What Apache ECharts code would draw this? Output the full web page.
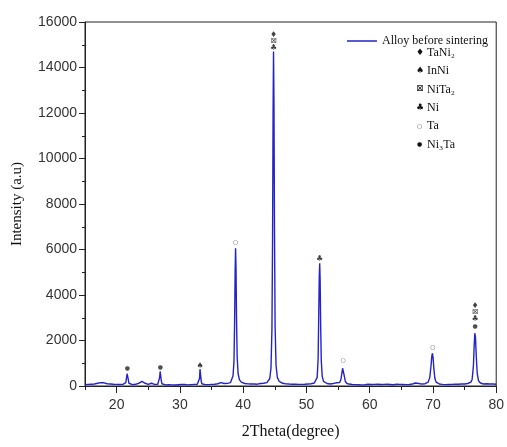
<!DOCTYPE html>
<html>
<head>
<meta charset="utf-8">
<script src="https://cdn.jsdelivr.net/npm/echarts@6/dist/echarts.min.js"></script>
<style>
  html, body { margin: 0; padding: 0; background: #fff; }
  #chart { width: 507px; height: 447px; }
</style>
</head>
<body>
<div id="chart"></div>
<script>
const seriesName = 'Alloy before sintering';
const twoTheta = [
  15.0,15.25,15.5,15.75,16.0,16.25,16.5,16.75,17.0,17.25,17.5,17.75,18.0,18.25,18.5,18.75,19.0,19.25,19.5,19.75,
  20.0,20.25,20.5,20.75,21.0,21.25,21.45,21.55,21.65,21.75,21.85,21.95,22.15,22.5,22.75,23.0,23.25,23.5,23.75,24.0,
  24.25,24.5,24.75,25.0,25.25,25.5,25.75,26.0,26.25,26.5,26.7,26.8,26.88,26.95,27.05,27.15,27.4,27.75,28.0,28.25,
  28.5,28.75,29.0,29.25,29.5,29.75,30.0,30.25,30.5,30.75,31.0,31.25,31.5,31.75,32.0,32.25,32.5,32.75,33.0,33.1,
  33.18,33.25,33.35,33.45,33.7,34.0,34.25,34.5,34.75,35.0,35.25,35.5,35.75,36.0,36.25,36.5,36.75,37.0,37.25,37.5,
  37.75,38.0,38.2,38.4,38.55,38.65,38.73,38.8,38.87,38.95,39.05,39.2,39.4,39.7,40.0,40.25,40.5,40.75,41.0,41.25,
  41.5,41.75,42.0,42.25,42.5,42.75,43.0,43.25,43.5,43.75,44.0,44.2,44.4,44.55,44.65,44.73,44.8,44.87,44.95,45.05,
  45.2,45.4,45.7,46.0,46.25,46.5,46.75,47.0,47.25,47.5,47.75,48.0,48.25,48.5,48.75,49.0,49.25,49.5,49.75,50.0,
  50.25,50.5,50.75,51.0,51.25,51.5,51.7,51.85,51.95,52.03,52.1,52.17,52.25,52.35,52.5,52.7,53.0,53.25,53.5,53.75,
  54.0,54.25,54.5,54.7,55.0,55.25,55.45,55.6,55.72,55.8,55.9,56.0,56.15,56.4,56.75,57.0,57.25,57.5,57.75,58.0,
  58.25,58.5,58.75,59.0,59.25,59.5,59.75,60.0,60.25,60.5,60.75,61.0,61.25,61.5,61.75,62.0,62.25,62.5,62.75,63.0,
  63.25,63.5,63.75,64.0,64.25,64.5,64.75,65.0,65.25,65.5,65.75,66.0,66.25,66.5,66.75,67.0,67.25,67.5,67.75,68.0,
  68.25,68.5,68.75,69.0,69.25,69.5,69.7,69.82,69.92,70.02,70.15,70.3,70.5,70.8,71.0,71.25,71.5,71.75,72.0,72.25,
  72.5,72.75,73.0,73.25,73.5,73.75,74.0,74.25,74.5,74.75,75.0,75.25,75.5,75.75,76.0,76.2,76.4,76.52,76.62,76.72,
  76.85,77.0,77.2,77.5,77.75,78.0,78.25,78.5,78.75,79.0,79.25,79.5,79.75,80.0
];
const intensity = [
  60,85,70,95,80,100,90,110,120,140,150,135,140,110,100,85,90,70,75,60,
  70,55,65,50,70,80,150,320,540,520,280,120,70,60,80,75,95,120,160,200,
  180,120,90,70,90,120,80,70,60,75,120,380,640,560,260,100,60,50,65,55,
  70,50,60,45,70,55,50,65,55,70,60,50,75,60,55,70,60,75,100,330,
  740,660,260,100,70,60,75,60,80,70,85,75,90,100,120,150,120,110,100,115,
  130,150,220,450,1100,2800,5000,6050,5200,3000,1300,550,280,170,140,110,120,95,100,85,
  100,90,95,80,100,110,105,120,130,150,190,320,800,2500,6500,12000,14700,12500,7000,2600,
  900,380,200,150,120,110,95,100,85,95,80,90,75,85,70,80,70,85,75,80,
  90,85,100,110,130,180,380,1200,3200,4800,5400,4600,2700,1100,420,200,140,110,100,90,
  100,110,170,140,110,150,280,560,780,830,700,420,200,110,85,75,65,80,60,70,
  55,65,50,70,55,60,75,55,65,50,70,60,75,55,65,50,70,60,75,85,
  65,70,55,65,80,60,70,55,65,75,60,70,65,80,90,95,130,150,110,90,
  85,95,100,120,170,380,900,1300,1440,1250,750,340,170,110,90,80,70,75,60,70,
  65,55,70,60,75,65,80,70,85,95,90,100,110,130,170,300,900,1800,2320,2150,
  1300,550,230,130,100,90,85,100,80,90,75,85,70,80
];
// Phase markers placed above peaks: 2θ, intensity, glyph
const markX = [21.7, 26.9, 33.2, 38.8, 44.8, 44.8, 44.8, 52.1, 55.8, 70.0, 76.65, 76.65, 76.65, 76.65];
const markY = [790, 830, 880, 6330, 15430, 15170, 14880, 5580, 1140, 1710, 3530, 3250, 2950, 2640];
const markGlyph = ['●','●','♠','○','♦','⊠','♣','♣','○','○','♦','⊠','♣','●'];
// Phase key
const phaseGlyphs = ['♦','♠','⊠','♣','○','●'];
const phaseNames = ['TaNi₂','InNi','NiTa₂','Ni','Ta','Ni₃Ta'];
// Axis ticks
const xTickLabels = [20, 30, 40, 50, 60, 70, 80];
const yTickLabels = [0, 2000, 4000, 6000, 8000, 10000, 12000, 14000, 16000];

// ---- Build chart ----
const chart = echarts.init(document.getElementById('chart'), null, { renderer: 'canvas' });
const lineData = twoTheta.map((t, i) => [t, intensity[i]]);
const markData = markX.map((x, i) => [x, markY[i], markGlyph[i]]);
const smallGlyph = g => (g === '●' || g === '○');

const keyGraphics = [];
phaseNames.forEach((name, i) => {
  const y = 54 + i * 18.3;
  const g = phaseGlyphs[i];
  keyGraphics.push({
    type: 'text', left: smallGlyph(g) ? 417 : 416, top: y - (smallGlyph(g) ? 4 : 6),
    style: { text: g, font: (smallGlyph(g) ? '6px' : '9px') + ' "DejaVu Sans"', fill: g === '○' ? '#555' : '#111' }
  });
  keyGraphics.push({
    type: 'text', left: 427, top: y - 7,
    style: { text: name, font: '12px "Liberation Serif"', fill: '#111' }
  });
});

const option = {
  animation: false,
  backgroundColor: '#fff',
  grid: { left: 85, right: 10, top: 22, bottom: 61, show: true, borderColor: '#222', borderWidth: 1 },
  legend: {
    data: [seriesName],
    right: 14, top: 30,
    icon: 'rect', itemWidth: 30, itemHeight: 1.5, itemGap: 4,
    textStyle: { fontFamily: 'Liberation Serif', fontSize: 12, color: '#111' }
  },
  graphic: keyGraphics,
  xAxis: [
    {
      type: 'value', min: 15, max: 80, interval: 5,
      name: '2Theta(degree)', nameLocation: 'middle', nameGap: 38,
      nameTextStyle: { fontFamily: 'Liberation Serif', fontSize: 16, color: '#111' },
      axisLine: { show: true, onZero: false, lineStyle: { color: '#222', width: 1 } },
      axisTick: { show: true, inside: false, length: 7, lineStyle: { color: '#222' }, customValues: xTickLabels },
      axisLabel: {
        margin: 12, fontFamily: 'Liberation Sans', fontSize: 14, color: '#333',
        customValues: xTickLabels
      },
      splitLine: { show: false }
    },
    {
      type: 'value', min: 15, max: 80, interval: 5, position: 'bottom',
      axisLine: { show: false, onZero: false },
      axisTick: { show: true, inside: false, length: 4, lineStyle: { color: '#222' } },
      axisLabel: { show: false },
      splitLine: { show: false }
    }
  ],
  yAxis: {
    type: 'value', min: 0, max: 16000, interval: 2000,
    name: 'Intensity (a.u)', nameLocation: 'middle', nameGap: 60, nameRotate: 90,
    nameTextStyle: { fontFamily: 'Liberation Serif', fontSize: 15, color: '#111' },
    axisLine: { show: true, lineStyle: { color: '#222', width: 1 } },
    axisTick: { show: true, inside: false, length: 6, lineStyle: { color: '#222' } },
    minorTick: { show: true, splitNumber: 2, length: 3, lineStyle: { color: '#222' } },
    axisLabel: {
      margin: 8, fontFamily: 'Liberation Sans', fontSize: 14, color: '#333',
      formatter: v => yTickLabels.indexOf(v) >= 0 ? String(v) : ''
    },
    splitLine: { show: false }
  },
  series: [
    {
      name: seriesName, type: 'line', data: lineData, xAxisIndex: 0,
      showSymbol: false, symbol: 'none',
      lineStyle: { color: '#2323c8', width: 1.4 },
      itemStyle: { color: '#2323c8' }
    },
    {
      name: 'markers', type: 'scatter', data: markData, xAxisIndex: 0,
      symbolSize: 1, itemStyle: { color: 'transparent' },
      silent: true,
      label: {
        show: true, position: 'inside',
        formatter: p => smallGlyph(p.value[2]) ? '{s|' + p.value[2] + '}' : '{g|' + p.value[2] + '}',
        rich: {
          g: { fontFamily: 'DejaVu Sans', fontSize: 8, color: '#111' },
          s: { fontFamily: 'DejaVu Sans', fontSize: 6, color: '#222' }
        }
      }
    }
  ]
};
chart.setOption(option);
</script>
</body>
</html>
